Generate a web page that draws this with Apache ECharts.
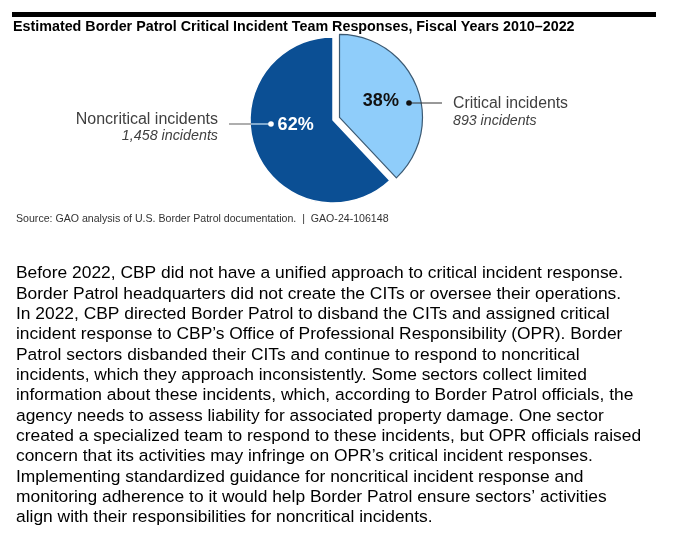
<!DOCTYPE html>
<html><head><meta charset="utf-8">
<script src="https://cdn.jsdelivr.net/npm/echarts@6/dist/echarts.min.js"></script>
<style>html,body{margin:0;padding:0;background:#fff}#c{width:674px;height:534px}</style>
</head><body><div id="c"></div>
<script>
var titleText = 'Estimated Border Patrol Critical Incident Team Responses, Fiscal Years 2010\u20132022';
var categories = ['Critical incidents', 'Noncritical incidents'];
var values = [893, 1458];
var countLabels = ['893 incidents', '1,458 incidents'];
var sourceText = 'Source: GAO analysis of U.S. Border Patrol documentation.  |  GAO-24-106148';
var paragraphLines = [
  'Before 2022, CBP did not have a unified approach to critical incident response.',
  'Border Patrol headquarters did not create the CITs or oversee their operations.',
  'In 2022, CBP directed Border Patrol to disband the CITs and assigned critical',
  'incident response to CBP\u2019s Office of Professional Responsibility (OPR). Border',
  'Patrol sectors disbanded their CITs and continue to respond to noncritical',
  'incidents, which they approach inconsistently. Some sectors collect limited',
  'information about these incidents, which, according to Border Patrol officials, the',
  'agency needs to assess liability for associated property damage. One sector',
  'created a specialized team to respond to these incidents, but OPR officials raised',
  'concern that its activities may infringe on OPR\u2019s critical incident responses.',
  'Implementing standardized guidance for noncritical incident response and',
  'monitoring adherence to it would help Border Patrol ensure sectors\u2019 activities',
  'align with their responsibilities for noncritical incidents.'
];

var FONT = 'Arial, "Liberation Sans", sans-serif';
var chart = echarts.init(document.getElementById('c'), null, {renderer: 'canvas'});

var graphics = [
  {type: 'rect', shape: {x: 12, y: 12, width: 644, height: 5}, style: {fill: '#000'}},
  {type: 'text', left: 13, top: 20, style: {text: titleText, font: 'bold 14.3px ' + FONT, fill: '#000'}},
  // critical label
  {type: 'line', z: 100, shape: {x1: 409, y1: 103, x2: 442, y2: 103}, style: {stroke: '#333', lineWidth: 1}},
  {type: 'circle', z: 101, shape: {cx: 409, cy: 103, r: 2.8}, style: {fill: '#111'}},
  {type: 'text', left: 453, top: 96, style: {text: categories[0], font: '15.8px ' + FONT, fill: '#404040'}},
  {type: 'text', left: 453, top: 114, style: {text: countLabels[0], font: 'italic 14.2px ' + FONT, fill: '#404040'}},
  // noncritical label
  {type: 'line', z: 100, shape: {x1: 229, y1: 124, x2: 251, y2: 124}, style: {stroke: '#777', lineWidth: 1.2}},
  {type: 'line', z: 100, shape: {x1: 251, y1: 124, x2: 271, y2: 124}, style: {stroke: '#cfe6f7', lineWidth: 1.2}},
  {type: 'circle', z: 101, shape: {cx: 271, cy: 124, r: 2.8}, style: {fill: '#fff'}},
  {type: 'text', right: 674 - 218, top: 112, style: {text: categories[1], font: '16px ' + FONT, fill: '#404040', textAlign: 'right'}},
  {type: 'text', right: 674 - 218, top: 129, style: {text: countLabels[1], font: 'italic 14.3px ' + FONT, fill: '#404040', textAlign: 'right'}},
  {type: 'text', left: 16, top: 214, style: {text: sourceText, font: '10.6px ' + FONT, fill: '#333'}}
];
paragraphLines.forEach(function (t, i) {
  graphics.push({type: 'text', left: 16, top: 265 + i * 20.35, style: {text: t, font: '17.4px ' + FONT, fill: '#000'}});
});

chart.setOption({
  animation: false,
  graphic: graphics,
  series: [{
    type: 'pie',
    center: [333, 120],
    radius: [0, 83],
    startAngle: 90,
    clockwise: true,
    selectedMode: 'single',
    selectedOffset: 7,
    percentPrecision: 0,
    emphasis: {disabled: true},
    data: [
      {name: categories[0], value: values[0], selected: true,
        itemStyle: {color: '#8fcdfa', borderColor: '#3c5a73', borderWidth: 1.2},
        label: {formatter: '{d}%', offset: [6, 3], fontSize: 18, fontWeight: 'bold', color: '#111', fontFamily: FONT}},
      {name: categories[1], value: values[1],
        itemStyle: {color: '#0b4f94', borderColor: '#ffffff', borderWidth: 1.5},
        label: {formatter: '{d}%', offset: [4, -11], fontSize: 18, fontWeight: 'bold', color: '#fff', fontFamily: FONT}}
    ],
    label: {show: true, position: 'inside'},
    labelLine: {show: false}
  }]
});
</script></body></html>
